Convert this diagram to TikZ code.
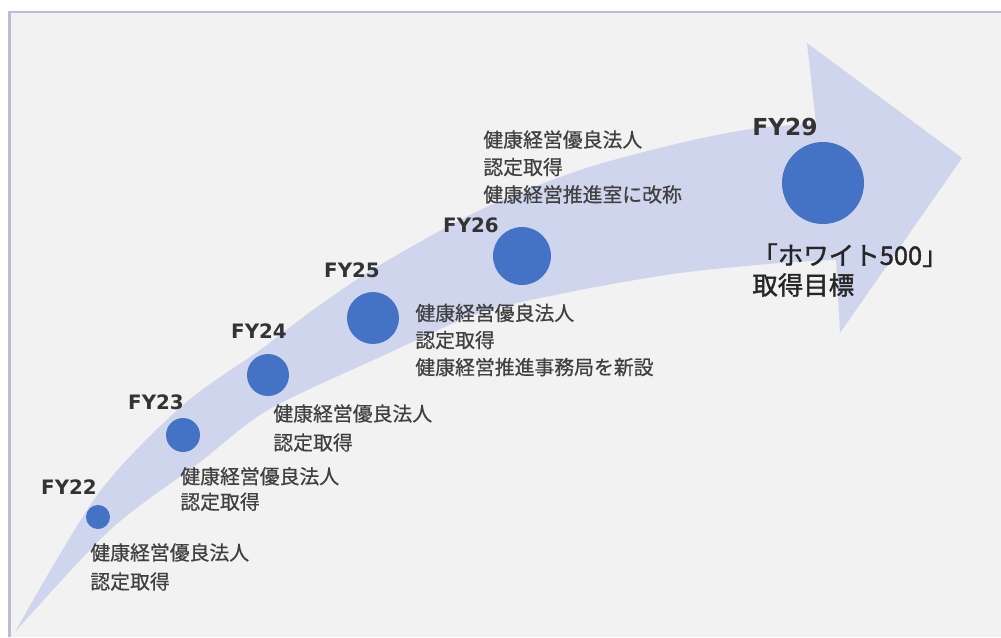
\documentclass[tikz,border=0pt]{standalone}
\usepackage{fontspec}
\setmainfont{Noto Sans CJK JP}
\newfontfamily\notefont{Noto Sans CJK JP}[FakeBold=0.6]
\newfontfamily\goalfont{Noto Sans CJK JP}[FakeBold=1.4]
\newfontfamily\fyfont{DejaVu Sans}
\usepackage{xcolor}
\usepackage{tikz}
\usetikzlibrary{positioning}
\definecolor{bggray}{RGB}{242,242,242}
\definecolor{frameblue}{RGB}{184,190,216}
\definecolor{bandblue}{RGB}{207,213,236}
\definecolor{dotblue}{RGB}{68,114,196}
\definecolor{txtgray}{RGB}{64,64,64}

\begin{document}
\begin{tikzpicture}[x=0.02cm, y=-0.02cm,
    dot/.style={circle, fill=dotblue, inner sep=0pt, minimum size=#1*0.04cm},
    year/.style={font=\fyfont\bfseries\fontsize{11.3}{13}\selectfont, text=black!80, inner sep=0pt},
    note/.style={font=\notefont\fontsize{11.3}{16.5}\selectfont, text=txtgray, align=left, anchor=west, inner sep=0pt}]
    \useasboundingbox (0,0) rectangle (1001,637);
    \fill[bggray] (10,12) rectangle (1001,637);
    \draw[frameblue, line width=1.2pt] (9.5,637) -- (9.5,12) -- (1001,12);
    \fill[bandblue] plot[smooth] coordinates {(15,632) (98,494) (183,405) (260,350) (317,307) (380,265) (480,210) (580,170) (680,143) (757,128) (816,124)}
        -- (807,43) -- (962,158) -- (840,333)
        -- plot[smooth] coordinates {(836,260) (780,263) (680,273) (580,290) (480,313) (380,357) (268,410) (200,462) (110,530) (15,632)} -- cycle;
    \foreach \n/\x/\y/\r in {22/98/517/12, 23/183/435/17, 24/268/375/21, 25/373/318/26, 26/522/256/29, 29/823/183/41}
        \node[dot=\r] (fy\n) at (\x,\y) {};
    \foreach \n/\x/\y in {22/69/487, 23/156/402, 24/259/331, 25/352/270, 26/471/225}
        \node[year] (y\n) at (\x,\y) {FY\n};
    \node[year, font=\fyfont\bfseries\fontsize{13.3}{15}\selectfont] (y29) at (785,127) {FY29};
    \node[note] (n22) at (90,567) {健康経営優良法人\\認定取得};
    \node[note, font=\notefont\fontsize{11.3}{14.5}\selectfont] (n23) at (180,489) {健康経営優良法人\\認定取得};
    \node[note] (n24) at (273,428) {健康経営優良法人\\認定取得};
    \node[note, font=\notefont\fontsize{11.3}{15.4}\selectfont] (n25) at (415,340) {健康経営優良法人\\認定取得\\健康経営推進事務局を新設};
    \node[note, font=\notefont\fontsize{11.3}{15.6}\selectfont] (n26) at (483,167) {健康経営優良法人\\認定取得\\健康経営推進室に改称};
    \node[note, font=\goalfont\fontsize{14.5}{17}\selectfont, text=black!85] (n29) at (752,270) {「ホワイト500」\\取得目標};
\end{tikzpicture}
\end{document}
